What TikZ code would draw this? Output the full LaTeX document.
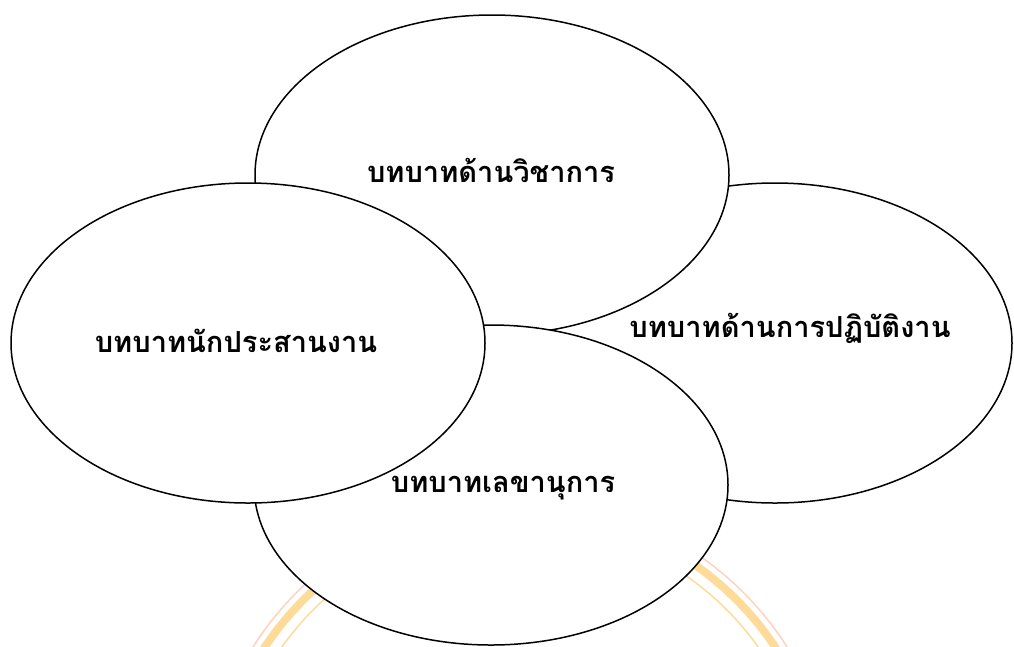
\documentclass[tikz,border=0pt]{standalone}
\usepackage{fontspec}
\newfontfamily\thaifont[Script=Thai]{Loma}
\usetikzlibrary{shapes.geometric}
\begin{document}
\begin{tikzpicture}[x=1pt,y=-1pt,
  bubble/.style={ellipse,draw=black,fill=white,line width=1.5pt,minimum width=474pt,minimum height=320pt,inner sep=0pt},
  lbl/.style={font=\thaifont\bfseries\fontsize{29}{34}\selectfont,inner sep=0pt},
  wm/.style={draw=orange!70!yellow,opacity=0.4}]
\useasboundingbox (0,0) rectangle (1014,646);
% faint watermark behind
\draw[wm,line width=8pt] (520,816) circle (306);
\draw[wm,line width=1.5pt,draw=orange!60!red,opacity=0.25] (520,816) circle (316);
\draw[wm,line width=1.5pt] (520,816) circle (292);
\node[bubble] (right) at (775,343) {};
\node[bubble] (top) at (492,175) {};
\node[bubble] (bottom) at (491,485) {};
\node[bubble] (left) at (248,343) {};
\node[lbl] (ltop) at (491,170) {บทบาทด้านวิชาการ};
\node[lbl] (lright) at (790,328) {บทบาทด้านการปฏิบัติงาน};
\node[lbl] (lbottom) at (503,488) {บทบาทเลขานุการ};
\node[lbl] (lleft) at (236,341) {บทบาทนักประสานงาน};
\end{tikzpicture}
\end{document}
